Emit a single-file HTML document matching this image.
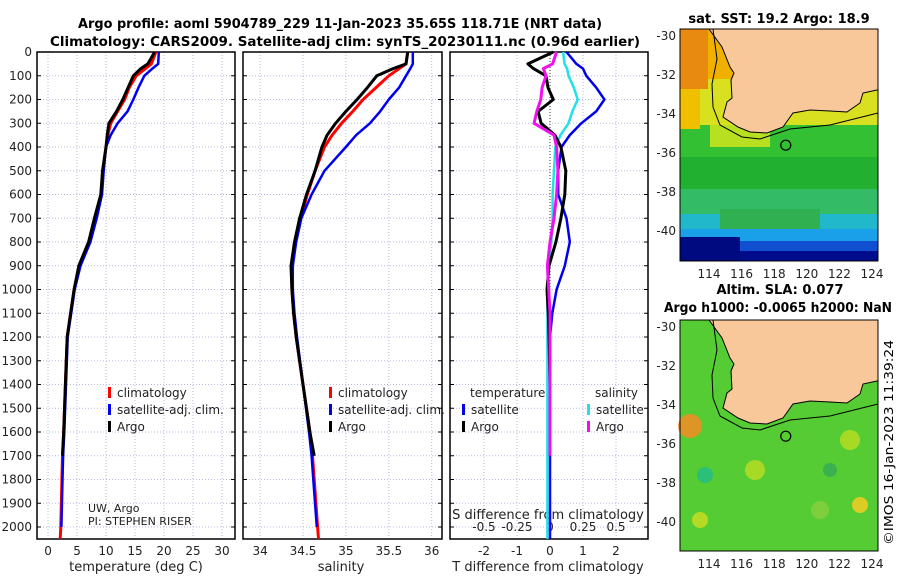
<!DOCTYPE html>
<html><head><meta charset="utf-8"><style>
body{margin:0;background:#fff;width:900px;height:580px;overflow:hidden}
svg{font-family:"DejaVu Sans","Liberation Sans",sans-serif}
</style></head><body>
<svg id="c" width="900" height="580" viewBox="0 0 900 580" xmlns="http://www.w3.org/2000/svg">
<text x="340" y="28" font-size="13" font-weight="bold" text-anchor="middle" textLength="524" lengthAdjust="spacingAndGlyphs">Argo profile: aoml 5904789_229 11-Jan-2023 35.65S 118.71E (NRT data)</text>
<text x="345" y="46" font-size="13" font-weight="bold" text-anchor="middle" textLength="590" lengthAdjust="spacingAndGlyphs">Climatology: CARS2009. Satellite-adj clim: synTS_20230111.nc (0.96d earlier)</text>
<g id="g"></g>
<text x="779" y="23" font-size="13" font-weight="bold" text-anchor="middle">sat. SST: 19.2 Argo: 18.9</text>
<text x="780" y="294" font-size="13" font-weight="bold" text-anchor="middle">Altim. SLA: 0.077</text>
<text x="778" y="312" font-size="13" font-weight="bold" text-anchor="middle" textLength="228" lengthAdjust="spacingAndGlyphs">Argo h1000: -0.0065 h2000: NaN</text>
<text transform="translate(893,545) rotate(-90)" font-size="12" textLength="205" lengthAdjust="spacingAndGlyphs">©IMOS 16-Jan-2023 11:39:24</text>
</svg>
<script>
const depths=[0,50,70,100,150,200,250,300,350,400,500,600,700,800,900,1000,1100,1200,1400,1600,1700,1800,2000,2050];
const tempClim=[18.6,17.8,16.8,15.2,14,13.2,12,10.8,10.3,10,9.5,9.2,8.2,7.1,5.4,4.5,3.9,3.3,3.0,2.7,2.5,2.4,2.2,2.1];
const tempSat=[19.1,19,18,16.6,15.6,14.7,13.7,12,10.8,10,9.6,9.3,8.4,7.3,5.6,4.6,4.0,3.4,3.1,2.8,2.6,2.5,2.3,null];
const tempArgo=[18.4,17.2,16,14.7,13.8,12.9,11.8,10.5,10.2,10,9.4,9.1,8.0,7.0,5.3,4.5,3.9,3.3,3.0,2.7,2.5,null,null,null];
const salClim=[35.72,35.7,35.62,35.5,35.35,35.2,35.08,34.95,34.84,34.75,34.64,34.55,34.47,34.41,34.37,34.37,34.39,34.42,34.5,34.58,34.61,34.63,34.67,34.68];
const salSat=[35.78,35.78,35.75,35.7,35.62,35.5,35.4,35.28,35.12,35.0,34.75,34.6,34.48,34.42,34.38,34.38,34.4,34.43,34.5,34.57,34.6,34.62,34.66,null];
const salArgo=[35.72,35.7,35.55,35.36,35.25,35.13,35.0,34.88,34.78,34.72,34.64,34.54,34.46,34.4,34.36,34.37,34.39,34.42,34.5,34.58,34.63,null,null,null];
const tdiffSat=[0.5,0.8,1.0,1.1,1.4,1.65,1.4,0.95,0.6,0.35,0.25,0.25,0.5,0.6,0.45,0.2,0.07,0.0,0.0,0.0,0.0,0.0,0.0,0.0];
const tdiffArgo=[0.1,-0.67,-0.5,-0.12,-0.06,0.1,-0.36,-0.27,0.15,0.33,0.48,0.45,0.33,0.18,-0.03,-0.09,-0.05,-0.03,0,0,0,null,null,null];
const sdiffArgo=[0.05,0.02,-0.05,-0.03,-0.06,-0.07,-0.1,-0.12,0.03,0.05,0.06,0.05,0.03,0.0,-0.02,-0.01,0,0,0,0,0,null,null,null];
const sdiffSat=[0.1,0.11,0.13,0.14,0.18,0.21,0.17,0.14,0.08,0.04,0.03,0.02,0.02,0.01,-0.01,-0.02,-0.02,-0.02,-0.02,-0.02,-0.02,-0.02,-0.02,-0.02];
const depthTicks=[0,100,200,300,400,500,600,700,800,900,1000,1100,1200,1300,1400,1500,1600,1700,1800,1900,2000];
const tempTicks=[0,5,10,15,20,25,30];
const salTicks=[34,34.5,35,35.5,36];
const tdTicks=[-2,-1,0,1,2];
const sdTicks=[-0.5,-0.25,0,0.25,0.5];
const latTicks=[-30,-32,-34,-36,-38,-40];
const lonTicks=[114,116,118,120,122,124];

const NS="http://www.w3.org/2000/svg",G=document.getElementById('g');
function el(t,a,p){const e=document.createElementNS(NS,t);for(const k in a)e.setAttribute(k,a[k]);(p||G).appendChild(e);return e;}
const yD=d=>52+d*0.2375;
const P=[{x0:37,x1:235,v0:-1.9,v1:32.24},{x0:243,x1:442,v0:33.80,v1:36.12},{x0:450,x1:648,v0:-3.03,v1:2.97}];
const xS=(p,v)=>p.x0+(v-p.v0)/(p.v1-p.v0)*(p.x1-p.x0);
const Y0=52,Y1=539;
function grid(p,ticks,pi){
  ticks.forEach(v=>{const x=xS(p,v);let l=el('line',{x1:x,x2:x,y1:Y0,y2:Y1,stroke:'#b8b8e0','stroke-dasharray':'1,2','stroke-width':1});
  });
  depthTicks.forEach(d=>{let l=el('line',{x1:p.x0,x2:p.x1,y1:yD(d),y2:yD(d),stroke:'#b8b8e0','stroke-dasharray':'1,2'});
  
  el('line',{x1:p.x0,x2:p.x0+4,y1:yD(d),y2:yD(d),stroke:'#000'});el('line',{x1:p.x1,x2:p.x1-4,y1:yD(d),y2:yD(d),stroke:'#000'});});
  let r=el('rect',{x:p.x0,y:Y0,width:p.x1-p.x0,height:Y1-Y0,fill:'none',stroke:'#000','stroke-width':1.5});
  
}
function line(p,vals,col,w,nm,map){let s='';depths.forEach((d,i)=>{const v=vals[i];if(v==null)return;const x=map?xS(p,map(v)):xS(p,v);s+=(s?'L':'M')+x.toFixed(1)+','+yD(d).toFixed(1);});
  let e=el('path',{d:s,fill:'none',stroke:col,'stroke-width':w,'stroke-linejoin':'round'});
  }
function txt(x,y,s,a,sz,nm){let t=el('text',{x:x,y:y,'font-size':sz||13,'text-anchor':a||'middle',fill:'#222'});t.textContent=s;return t;}

grid(P[0],tempTicks,1);grid(P[1],salTicks,2);grid(P[2],tdTicks,3);
depthTicks.forEach(d=>txt(32,yD(d)+4,String(d),'end',12,'y-tick-label'));
tempTicks.forEach(v=>txt(xS(P[0],v),555,String(v),'middle',12,'x-tick-label'));
salTicks.forEach(v=>txt(xS(P[1],v),555,String(v),'middle',12,'x-tick-label'));
tdTicks.forEach(v=>txt(xS(P[2],v),555,String(v),'middle',12,'x-tick-label'));
sdTicks.forEach(v=>txt(xS(P[2],v*4),531,String(v),'middle',12,'s-tick-label'));
txt(136,571,'temperature (deg C)','middle',13,'x-axis-title-temperature');
txt(341,571,'salinity','middle',13,'x-axis-title-salinity');
txt(548,571,'T difference from climatology','middle',13,'x-axis-title-tdiff');
txt(548,519,'S difference from climatology','middle',13,'s-axis-title');
let z=el('line',{x1:xS(P[2],0),x2:xS(P[2],0),y1:yD(0),y2:yD(2050),stroke:'#333','stroke-dasharray':'1,2'});


line(P[0],tempClim,'#f00',3,'temp-climatology-line');
line(P[0],tempSat,'#0000ee',2.5,'temp-satellite-line');
line(P[0],tempArgo,'#000',3,'temp-argo-line');
line(P[1],salClim,'#f00',3,'sal-climatology-line');
line(P[1],salSat,'#0000ee',2.5,'sal-satellite-line');
line(P[1],salArgo,'#000',3,'sal-argo-line');
line(P[2],tdiffSat,'#0000ee',2.5,'tdiff-satellite-line');
line(P[2],sdiffSat,'#22e0e8',2.5,'sdiff-satellite-line',v=>v*4);
line(P[2],tdiffArgo,'#000',3,'tdiff-argo-line');
line(P[2],sdiffArgo,'#ee11ee',3,'sdiff-argo-line',v=>v*4);

function leg(x,y,col,s,nm){let r=el('rect',{x:x,y:y-10,width:3,height:11,fill:col});txt(x+9,y,s,'start',12,nm);}
leg(108,397,'#f00','climatology','legend-climatology');leg(108,414,'#0000ee','satellite-adj. clim.','legend-satellite');leg(108,431,'#000','Argo','legend-argo');
leg(329,397,'#f00','climatology','legend2-climatology');leg(329,414,'#0000ee','satellite-adj. clim.','legend2-satellite');leg(329,431,'#000','Argo','legend2-argo');
txt(470,397,'temperature','start',12,'legend-temperature-heading');txt(595,397,'salinity','start',12,'legend-salinity-heading');
leg(462,414,'#0000ee','satellite','legend3-t-satellite');leg(462,431,'#000','Argo','legend3-t-argo');
leg(587,414,'#22e0e8','satellite','legend3-s-satellite');leg(587,431,'#ee11ee','Argo','legend3-s-argo');
txt(88,512,'UW, Argo','start',11,'pi-institution');txt(88,525,'PI: STEPHEN RISER','start',11,'pi-name');

// maps
const lonX=lon=>709+(lon-114)*16.3;
const coast=[[709,0],[722,18],[730,38],[734,44],[731,51],[732,69],[727,73],[723,88],[738,98],[750,103],[767,104],[783,98],[793,84],[810,81],[830,82],[847,83],[860,74],[863,64],[877,61],[878,61],[878,0]];
function map(top,h,kind,nm){
  const g=el('g',{});
  const latY=lat=>top+6+(-30-lat)/10*195;
  if(kind==='sst'){
    const bands=[[0,50,'#f0b000'],[50,96,'#d8e020'],[96,128,'#33c033'],[128,160,'#22b030'],[160,185,'#33bb66'],[185,200,'#22b8cc'],[200,212,'#1aa0e8'],[212,222,'#1050d0'],[222,232,'#000c8c']];
    bands.forEach(b=>el('rect',{x:680,y:top+b[0],width:198,height:b[1]-b[0],fill:b[2]},g));
    el('rect',{x:680,y:top,width:28,height:60,fill:'#e88a10'},g);
    el('rect',{x:680,y:top+60,width:20,height:40,fill:'#f0c000'},g);
    el('rect',{x:710,y:top+96,width:60,height:22,fill:'#b8e020'},g);
    el('rect',{x:720,y:top+180,width:100,height:20,fill:'#30b050'},g);
    el('rect',{x:680,y:top+208,width:60,height:24,fill:'#000a80'},g);
  }else{
    el('rect',{x:680,y:top,width:198,height:h,fill:'#55cc33'},g);
    [[690,426,12,'#ff8822'],[705,475,8,'#22bb88'],[755,470,10,'#bbdd22'],[850,440,10,'#bbdd22'],[820,510,9,'#88d040'],[700,520,8,'#ccdd22'],[860,505,8,'#ffcc22'],[830,470,7,'#33aa55']].forEach(c=>el('circle',{cx:c[0],cy:c[1],r:c[2],fill:c[3],opacity:0.8},g));
  }
  let s='';coast.forEach((p,i)=>s+=(i?'L':'M')+p[0]+','+(top+p[1]));
  el('path',{d:s+'Z',fill:'#f9c89a',stroke:'#000','stroke-width':1},g);
  el('path',{d:`M713,${top}L717,${top+30}L712,${top+55}L713,${top+78}L720,${top+96}L742,${top+108}L760,${top+110}L790,${top+100}L830,${top+96}L878,${top+84}`,fill:'none',stroke:'#000','stroke-width':1},g);
  el('circle',{cx:lonX(118.71),cy:latY(-35.65),r:5,fill:'none',stroke:'#000','stroke-width':1.2},g);
  el('rect',{x:680,y:top,width:198,height:h,fill:'none',stroke:'#000'},g);
  latTicks.forEach(l=>{txt(676,latY(l)+5,String(l),'end',12,'lat-tick-label');});
  lonTicks.forEach(l=>txt(lonX(l),top+h+17,String(l),'middle',12,'lon-tick-label'));
}
map(29,232,'sst','sst-map');
map(320,231,'sla','sla-map');
</script>
</body></html>
